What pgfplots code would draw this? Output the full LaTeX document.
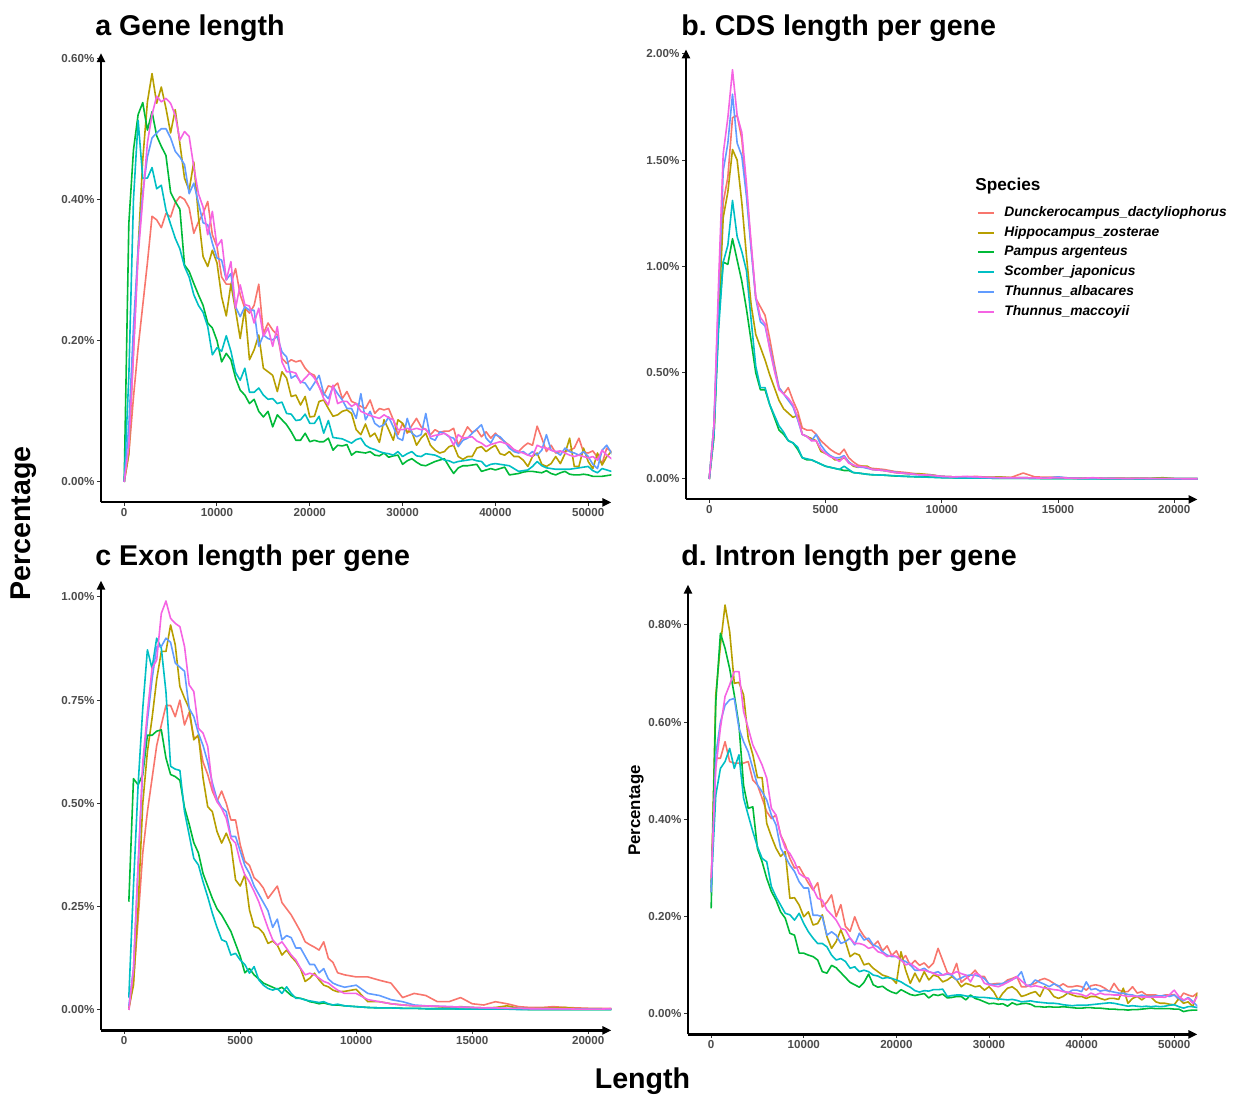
\documentclass[border=0pt]{standalone}
\usepackage{fontspec}
\setmainfont{Liberation Sans}
\usepackage{pgfplots}
\usepackage{pgfplotstable}
\pgfplotsset{compat=1.18}
\usetikzlibrary{arrows.meta}
\frenchspacing

\definecolor{cR}{HTML}{F8766D}
\definecolor{cH}{HTML}{B79F00}
\definecolor{cP}{HTML}{00BA38}
\definecolor{cS}{HTML}{00BFC4}
\definecolor{cB}{HTML}{619CFF}
\definecolor{cM}{HTML}{F564E3}

\pgfplotstableread{
x R H P S B M
0 0 0 0 0 0 0
500 0.04 0.04 0.366 0.15 0.08 0.05
1000 0.12 0.187 0.47 0.40 0.22 0.18
1500 0.19 0.33 0.52 0.512 0.33 0.32
2000 0.25 0.456 0.537 0.43 0.41 0.40
2500 0.31 0.538 0.498 0.43 0.46 0.48
3000 0.376 0.578 0.524 0.445 0.487 0.52
3500 0.371 0.536 0.49 0.415 0.494 0.546
4000 0.36 0.559 0.475 0.42 0.50 0.538
4500 0.38 0.529 0.462 0.385 0.50 0.543
5000 0.375 0.494 0.41 0.365 0.487 0.536
5500 0.395 0.527 0.397 0.345 0.468 0.519
6000 0.404 0.479 0.386 0.33 0.46 0.484
6500 0.40 0.43 0.307 0.305 0.449 0.496
7000 0.388 0.413 0.298 0.29 0.408 0.489
7500 0.352 0.453 0.281 0.265 0.423 0.446
8000 0.368 0.376 0.265 0.25 0.395 0.408
8500 0.38 0.319 0.25 0.24 0.367 0.389
9000 0.397 0.305 0.225 0.22 0.364 0.35
9500 0.35 0.328 0.218 0.18 0.338 0.383
10000 0.333 0.31 0.20 0.19 0.317 0.333
10500 0.29 0.262 0.17 0.185 0.314 0.343
11000 0.28 0.235 0.182 0.207 0.286 0.286
11500 0.28 0.28 0.173 0.185 0.295 0.312
12000 0.302 0.243 0.147 0.155 0.248 0.246
12500 0.265 0.203 0.13 0.144 0.234 0.279
13000 0.246 0.246 0.123 0.161 0.248 0.251
13500 0.239 0.173 0.111 0.127 0.243 0.249
14000 0.25 0.187 0.117 0.127 0.243 0.225
14500 0.28 0.208 0.10 0.133 0.192 0.246
15000 0.21 0.161 0.092 0.123 0.208 0.206
15500 0.225 0.156 0.10 0.117 0.203 0.218
16000 0.215 0.151 0.078 0.118 0.201 0.192
16500 0.208 0.128 0.095 0.111 0.206 0.22
17000 0.175 0.156 0.088 0.113 0.184 0.17
17500 0.168 0.147 0.081 0.097 0.177 0.156
18000 0.173 0.121 0.071 0.096 0.147 0.156
18500 0.17 0.123 0.059 0.087 0.151 0.154
19000 0.172 0.109 0.059 0.088 0.142 0.14
19500 0.161 0.121 0.069 0.096 0.14 0.147
20000 0.154 0.092 0.057 0.083 0.13 0.154
20500 0.151 0.093 0.059 0.083 0.14 0.147
21000 0.135 0.114 0.057 0.093 0.151 0.135
21500 0.123 0.116 0.057 0.069 0.125 0.118
22000 0.136 0.104 0.062 0.087 0.118 0.109
22500 0.134 0.093 0.045 0.063 0.135 0.137
23000 0.14 0.095 0.052 0.062 0.125 0.111
23500 0.118 0.10 0.051 0.061 0.116 0.114
24000 0.128 0.102 0.053 0.058 0.104 0.114
24500 0.114 0.097 0.038 0.055 0.104 0.107
25000 0.111 0.074 0.043 0.06 0.09 0.111
25500 0.107 0.067 0.042 0.062 0.125 0.10
26000 0.104 0.082 0.041 0.052 0.088 0.097
26500 0.116 0.064 0.043 0.048 0.10 0.094
27000 0.097 0.069 0.038 0.046 0.083 0.092
27500 0.104 0.056 0.037 0.043 0.078 0.09
28000 0.102 0.088 0.041 0.041 0.081 0.095
28500 0.104 0.074 0.035 0.040 0.092 0.091
29000 0.088 0.059 0.037 0.038 0.078 0.088
29500 0.067 0.088 0.038 0.043 0.062 0.074
30000 0.083 0.083 0.025 0.036 0.059 0.074
30500 0.069 0.071 0.030 0.040 0.09 0.076
31000 0.08 0.071 0.033 0.043 0.069 0.074
31500 0.09 0.052 0.028 0.037 0.064 0.076
32000 0.078 0.062 0.024 0.036 0.067 0.074
32500 0.074 0.069 0.023 0.040 0.097 0.075
33000 0.067 0.052 0.026 0.039 0.062 0.064
33500 0.074 0.045 0.029 0.038 0.059 0.066
34000 0.07 0.041 0.031 0.035 0.071 0.067
34500 0.072 0.043 0.033 0.031 0.069 0.069
35000 0.072 0.05 0.022 0.030 0.064 0.065
35500 0.076 0.052 0.012 0.027 0.062 0.052
36000 0.052 0.036 0.020 0.029 0.05 0.067
36500 0.065 0.032 0.023 0.030 0.059 0.062
37000 0.078 0.036 0.023 0.031 0.062 0.063
37500 0.07 0.036 0.024 0.032 0.069 0.064
38000 0.074 0.048 0.025 0.030 0.075 0.058
38500 0.064 0.05 0.015 0.029 0.081 0.055
39000 0.071 0.043 0.017 0.022 0.062 0.05
39500 0.062 0.048 0.019 0.025 0.055 0.053
40000 0.069 0.052 0.017 0.026 0.067 0.055
40500 0.062 0.04 0.019 0.025 0.064 0.057
41000 0.057 0.038 0.021 0.024 0.057 0.055
41500 0.052 0.043 0.010 0.023 0.048 0.052
42000 0.045 0.036 0.011 0.019 0.043 0.046
42500 0.043 0.036 0.012 0.015 0.041 0.043
43000 0.05 0.031 0.014 0.016 0.043 0.041
43500 0.055 0.022 0.015 0.017 0.038 0.038
44000 0.052 0.036 0.015 0.022 0.043 0.036
44500 0.079 0.041 0.014 0.029 0.038 0.052
45000 0.062 0.025 0.013 0.023 0.045 0.049
45500 0.043 0.022 0.016 0.020 0.067 0.048
46000 0.052 0.026 0.012 0.019 0.045 0.045
46500 0.041 0.036 0.010 0.018 0.043 0.043
47000 0.043 0.026 0.013 0.018 0.038 0.044
47500 0.043 0.04 0.015 0.018 0.048 0.041
48000 0.045 0.062 0.011 0.018 0.043 0.038
48500 0.048 0.022 0.010 0.019 0.041 0.036
49000 0.062 0.022 0.010 0.020 0.038 0.038
49500 0.042 0.048 0.011 0.021 0.043 0.036
50000 0.041 0.029 0.010 0.022 0.036 0.034
50500 0.044 0.019 0.008 0.016 0.025 0.036
51000 0.035 0.041 0.008 0.013 0.019 0.031
51500 0.026 0.024 0.008 0.019 0.045 0.045
52000 0.048 0.036 0.009 0.017 0.052 0.038
52500 0.043 0.043 0.010 0.015 0.041 0.033
53000 0.031 0.038 0.010 0.013 0.029 0.029
}\tabA

\pgfplotstableread{
x R H P S B M
0 0 0 0 0 0 0
200 0.20 0.20 0.25 0.20 0.25 0.25
400 0.80 0.75 0.75 0.70 0.85 0.92
600 1.30 1.23 1.02 1.02 1.45 1.53
800 1.42 1.35 1.01 1.10 1.58 1.70
1000 1.70 1.55 1.13 1.31 1.81 1.925
1200 1.71 1.50 1.03 1.14 1.58 1.71
1400 1.60 1.30 0.93 1.07 1.52 1.63
1600 1.35 1.05 0.80 0.98 1.33 1.39
1800 1.10 0.82 0.65 0.75 1.08 1.11
2000 0.85 0.68 0.50 0.53 0.85 0.86
2200 0.81 0.62 0.42 0.43 0.74 0.76
2400 0.77 0.56 0.42 0.43 0.72 0.73
2600 0.66 0.49 0.35 0.35 0.62 0.61
2800 0.54 0.43 0.29 0.30 0.52 0.51
3000 0.43 0.37 0.23 0.25 0.43 0.42
3200 0.40 0.33 0.21 0.22 0.40 0.40
3400 0.43 0.31 0.18 0.18 0.37 0.38
3600 0.37 0.29 0.17 0.17 0.34 0.35
3800 0.32 0.30 0.14 0.15 0.28 0.29
4000 0.24 0.21 0.10 0.10 0.21 0.21
4200 0.23 0.20 0.09 0.095 0.20 0.20
4400 0.23 0.19 0.09 0.09 0.18 0.18
4600 0.21 0.18 0.08 0.08 0.21 0.18
4800 0.18 0.13 0.07 0.07 0.16 0.14
5000 0.16 0.12 0.06 0.06 0.13 0.12
5200 0.14 0.11 0.055 0.055 0.11 0.105
5400 0.125 0.09 0.05 0.05 0.10 0.097
5600 0.115 0.09 0.045 0.045 0.10 0.082
5800 0.14 0.10 0.04 0.06 0.11 0.105
6000 0.10 0.08 0.04 0.045 0.08 0.074
6200 0.08 0.06 0.03 0.03 0.065 0.066
6400 0.065 0.055 0.028 0.028 0.056 0.058
6600 0.06 0.06 0.025 0.025 0.055 0.058
6800 0.055 0.06 0.022 0.022 0.05 0.055
7000 0.05 0.045 0.02 0.02 0.045 0.045
7500 0.045 0.04 0.018 0.018 0.04 0.04
8000 0.035 0.03 0.014 0.015 0.032 0.03
8500 0.03 0.025 0.012 0.012 0.025 0.026
9000 0.022 0.025 0.01 0.01 0.02 0.02
9500 0.02 0.02 0.009 0.008 0.018 0.018
10000 0.012 0.012 0.007 0.006 0.012 0.012
10500 0.01 0.01 0.006 0.005 0.01 0.01
11000 0.01 0.008 0.005 0.004 0.01 0.012
11500 0.012 0.01 0.004 0.004 0.008 0.01
12000 0.008 0.008 0.004 0.004 0.006 0.008
12500 0.007 0.01 0.003 0.003 0.006 0.006
13000 0.008 0.006 0.003 0.003 0.005 0.006
13500 0.028 0.006 0.003 0.003 0.006 0.006
14000 0.01 0.005 0.003 0.002 0.005 0.005
14500 0.008 0.005 0.002 0.002 0.004 0.004
15000 0.008 0.006 0.002 0.002 0.01 0.006
15500 0.005 0.004 0.002 0.002 0.004 0.004
16000 0.004 0.003 0.002 0.001 0.003 0.003
16500 0.005 0.004 0.002 0.001 0.003 0.006
17000 0.003 0.003 0.001 0.001 0.003 0.003
17500 0.004 0.003 0.001 0.001 0.002 0.003
18000 0.003 0.003 0.001 0.001 0.002 0.002
18500 0.004 0.002 0.001 0.001 0.002 0.003
19000 0.003 0.003 0.001 0.001 0.002 0.002
19500 0.004 0.006 0.001 0.001 0.002 0.002
20000 0.002 0.002 0.001 0.001 0.001 0.002
20500 0.002 0.002 0.001 0.001 0.001 0.001
21000 0.002 0.002 0.001 0.001 0.001 0.001
21500 0.002 0.002 0.001 0.001 0.001 0.001
}\tabB

\pgfplotstableread{
x R H P S B M
200 0.0 0.005 0.262 0.03 0.01 0.0
400 0.07 0.06 0.56 0.30 0.10 0.10
600 0.22 0.25 0.545 0.545 0.35 0.35
800 0.38 0.50 0.57 0.73 0.58 0.60
1000 0.48 0.625 0.665 0.872 0.70 0.72
1200 0.56 0.706 0.665 0.827 0.80 0.827
1400 0.64 0.80 0.675 0.90 0.88 0.847
1600 0.69 0.868 0.678 0.876 0.88 0.96
1800 0.737 0.868 0.61 0.77 0.90 0.99
2000 0.737 0.932 0.57 0.59 0.89 0.948
2200 0.71 0.884 0.565 0.583 0.84 0.936
2400 0.75 0.783 0.556 0.58 0.83 0.928
2600 0.69 0.755 0.49 0.48 0.82 0.88
2800 0.72 0.73 0.45 0.424 0.73 0.787
3000 0.66 0.654 0.405 0.367 0.71 0.771
3200 0.66 0.666 0.38 0.351 0.67 0.682
3400 0.60 0.561 0.33 0.31 0.64 0.67
3600 0.57 0.492 0.30 0.274 0.60 0.638
3800 0.53 0.48 0.27 0.234 0.55 0.54
4000 0.505 0.432 0.245 0.20 0.51 0.504
4200 0.53 0.404 0.23 0.17 0.49 0.488
4400 0.50 0.428 0.21 0.165 0.48 0.464
4600 0.46 0.40 0.19 0.133 0.42 0.416
4800 0.46 0.315 0.16 0.137 0.42 0.404
5000 0.40 0.30 0.13 0.121 0.385 0.359
5200 0.36 0.327 0.09 0.11 0.35 0.327
5400 0.35 0.242 0.10 0.089 0.33 0.31
5600 0.32 0.202 0.085 0.105 0.30 0.287
5800 0.31 0.198 0.075 0.073 0.28 0.262
6000 0.295 0.186 0.065 0.06 0.26 0.23
6200 0.27 0.161 0.06 0.052 0.24 0.198
6400 0.285 0.167 0.055 0.048 0.20 0.17
6600 0.30 0.157 0.05 0.052 0.22 0.157
6800 0.26 0.133 0.055 0.04 0.17 0.165
7000 0.245 0.145 0.045 0.056 0.18 0.149
7200 0.23 0.129 0.035 0.04 0.175 0.133
7400 0.21 0.117 0.03 0.028 0.15 0.121
7600 0.19 0.10 0.028 0.028 0.15 0.101
7800 0.165 0.069 0.025 0.024 0.13 0.085
8000 0.158 0.077 0.02 0.022 0.11 0.089
8200 0.152 0.089 0.018 0.02 0.11 0.085
8400 0.145 0.073 0.015 0.018 0.09 0.077
8600 0.165 0.06 0.017 0.02 0.10 0.069
8800 0.125 0.056 0.014 0.015 0.075 0.065
9000 0.115 0.048 0.012 0.012 0.065 0.056
9200 0.09 0.044 0.012 0.014 0.06 0.048
9500 0.085 0.045 0.01 0.01 0.055 0.04
10000 0.08 0.05 0.008 0.008 0.06 0.04
10500 0.08 0.02 0.006 0.006 0.04 0.025
11000 0.072 0.02 0.005 0.005 0.035 0.02
11500 0.065 0.015 0.005 0.005 0.025 0.015
12000 0.03 0.012 0.004 0.004 0.02 0.012
12500 0.04 0.01 0.004 0.004 0.012 0.01
13000 0.035 0.01 0.003 0.003 0.01 0.01
13500 0.02 0.008 0.003 0.003 0.009 0.009
14000 0.02 0.006 0.003 0.003 0.008 0.008
14500 0.03 0.008 0.002 0.002 0.007 0.007
15000 0.015 0.006 0.002 0.002 0.006 0.006
15500 0.012 0.005 0.002 0.002 0.005 0.005
16000 0.02 0.006 0.002 0.002 0.004 0.005
16500 0.015 0.01 0.002 0.002 0.004 0.004
17000 0.008 0.004 0.002 0.001 0.004 0.004
17500 0.006 0.003 0.001 0.001 0.003 0.003
18000 0.006 0.004 0.001 0.001 0.003 0.003
18500 0.008 0.005 0.001 0.001 0.003 0.003
19000 0.006 0.006 0.001 0.001 0.002 0.003
19500 0.005 0.003 0.001 0.001 0.002 0.002
20000 0.004 0.003 0.001 0.001 0.002 0.002
20500 0.004 0.003 0.001 0.001 0.002 0.002
21000 0.004 0.002 0.001 0.001 0.002 0.003
21500 0.004 0.002 0.001 0.001 0.002 0.003
}\tabC

\pgfplotstableread{
x R H P S B M
0 0.27 0.25 0.217 0.26 0.25 0.28
500 0.526 0.656 0.642 0.45 0.533 0.505
1000 0.526 0.759 0.783 0.505 0.60 0.588
1500 0.56 0.841 0.752 0.519 0.635 0.653
2000 0.519 0.786 0.71 0.546 0.646 0.677
2500 0.516 0.68 0.656 0.505 0.649 0.704
3000 0.516 0.682 0.594 0.533 0.588 0.704
3500 0.516 0.656 0.47 0.444 0.56 0.622
4000 0.519 0.567 0.423 0.409 0.539 0.588
4500 0.481 0.533 0.426 0.375 0.505 0.553
5000 0.471 0.486 0.34 0.344 0.471 0.533
5500 0.444 0.486 0.313 0.32 0.457 0.512
6000 0.416 0.392 0.279 0.313 0.44 0.485
6500 0.402 0.365 0.252 0.262 0.409 0.423
7000 0.409 0.341 0.234 0.241 0.389 0.409
7500 0.368 0.324 0.21 0.224 0.341 0.368
8000 0.348 0.334 0.197 0.207 0.324 0.341
8500 0.32 0.238 0.166 0.204 0.306 0.33
9000 0.30 0.239 0.162 0.193 0.293 0.313
9500 0.303 0.224 0.125 0.207 0.272 0.289
10000 0.286 0.20 0.125 0.186 0.259 0.282
10500 0.269 0.21 0.121 0.169 0.259 0.279
11000 0.255 0.183 0.118 0.156 0.203 0.258
11500 0.27 0.186 0.111 0.145 0.203 0.238
12000 0.22 0.204 0.087 0.145 0.20 0.234
12500 0.23 0.159 0.084 0.138 0.162 0.214
13000 0.245 0.135 0.10 0.121 0.169 0.204
13500 0.20 0.149 0.095 0.111 0.162 0.193
14000 0.225 0.173 0.085 0.114 0.145 0.176
14500 0.18 0.149 0.075 0.108 0.149 0.173
15000 0.17 0.118 0.065 0.094 0.156 0.156
15500 0.20 0.125 0.06 0.097 0.142 0.145
16000 0.175 0.121 0.055 0.087 0.166 0.145
16500 0.16 0.101 0.065 0.09 0.152 0.142
17000 0.15 0.104 0.082 0.087 0.156 0.135
17500 0.14 0.094 0.06 0.08 0.142 0.138
18000 0.15 0.087 0.055 0.078 0.138 0.128
18500 0.13 0.08 0.057 0.073 0.128 0.125
19000 0.14 0.077 0.05 0.075 0.121 0.118
19500 0.12 0.073 0.045 0.073 0.118 0.121
20000 0.13 0.063 0.042 0.07 0.118 0.118
20500 0.11 0.128 0.05 0.066 0.111 0.111
21000 0.12 0.09 0.045 0.06 0.108 0.101
21500 0.10 0.063 0.04 0.055 0.101 0.104
22000 0.11 0.084 0.038 0.048 0.09 0.097
22500 0.10 0.066 0.04 0.045 0.09 0.09
23000 0.105 0.087 0.042 0.048 0.094 0.09
23500 0.095 0.07 0.033 0.047 0.087 0.087
24000 0.105 0.08 0.04 0.05 0.084 0.084
24500 0.135 0.077 0.038 0.05 0.087 0.08
25000 0.11 0.066 0.041 0.051 0.08 0.08
25500 0.085 0.07 0.033 0.036 0.082 0.084
26000 0.08 0.077 0.034 0.038 0.08 0.082
26500 0.104 0.07 0.036 0.039 0.07 0.087
27000 0.065 0.056 0.036 0.039 0.074 0.083
27500 0.073 0.063 0.029 0.037 0.079 0.08
28000 0.08 0.06 0.039 0.036 0.08 0.066
28500 0.09 0.056 0.032 0.035 0.08 0.084
29000 0.077 0.058 0.029 0.034 0.077 0.08
29500 0.077 0.049 0.025 0.034 0.073 0.063
30000 0.06 0.056 0.021 0.033 0.062 0.06
30500 0.062 0.046 0.022 0.032 0.06 0.058
31000 0.063 0.029 0.02 0.031 0.061 0.056
31500 0.062 0.043 0.021 0.03 0.063 0.06
32000 0.07 0.053 0.016 0.029 0.067 0.065
32500 0.073 0.056 0.023 0.03 0.071 0.07
33000 0.077 0.049 0.019 0.028 0.075 0.077
33500 0.056 0.036 0.021 0.025 0.087 0.068
34000 0.056 0.039 0.022 0.026 0.058 0.06
34500 0.06 0.043 0.02 0.027 0.06 0.056
35000 0.063 0.046 0.015 0.025 0.07 0.058
35500 0.07 0.036 0.015 0.024 0.065 0.056
36000 0.073 0.056 0.014 0.023 0.061 0.053
36500 0.069 0.049 0.015 0.022 0.056 0.052
37000 0.063 0.036 0.014 0.022 0.062 0.05
37500 0.056 0.032 0.014 0.021 0.058 0.049
38000 0.062 0.036 0.015 0.019 0.048 0.046
38500 0.056 0.043 0.014 0.018 0.043 0.045
39000 0.056 0.039 0.013 0.017 0.049 0.043
39500 0.058 0.036 0.012 0.018 0.049 0.042
40000 0.056 0.036 0.012 0.018 0.046 0.04
40500 0.049 0.032 0.013 0.018 0.066 0.036
41000 0.058 0.036 0.013 0.019 0.05 0.043
41500 0.06 0.036 0.012 0.02 0.052 0.039
42000 0.058 0.032 0.012 0.021 0.047 0.043
42500 0.053 0.029 0.011 0.022 0.049 0.04
43000 0.046 0.032 0.01 0.023 0.047 0.04
43500 0.063 0.032 0.01 0.022 0.045 0.039
44000 0.049 0.03 0.009 0.02 0.043 0.039
44500 0.046 0.053 0.009 0.018 0.043 0.038
45000 0.046 0.022 0.008 0.016 0.04 0.036
45500 0.056 0.032 0.009 0.017 0.039 0.037
46000 0.043 0.036 0.009 0.016 0.036 0.036
46500 0.046 0.029 0.01 0.015 0.039 0.035
47000 0.039 0.036 0.011 0.016 0.036 0.035
47500 0.039 0.035 0.012 0.015 0.036 0.034
48000 0.039 0.025 0.011 0.016 0.037 0.035
48500 0.036 0.022 0.011 0.015 0.037 0.035
49000 0.039 0.022 0.011 0.016 0.038 0.034
49500 0.039 0.02 0.011 0.018 0.036 0.04
50000 0.04 0.019 0.01 0.019 0.039 0.049
50500 0.029 0.032 0.01 0.015 0.032 0.036
51000 0.043 0.022 0.005 0.012 0.027 0.029
51500 0.039 0.025 0.007 0.015 0.034 0.032
52000 0.036 0.015 0.008 0.015 0.026 0.022
52500 0.043 0.043 0.008 0.013 0.016 0.036
53000 0.04 0.029 0.01 0.013 0.028 0.032
}\tabD

\pgfplotsset{
  panel/.style={
    scale only axis,
    anchor=south west,
    axis lines=left,
    axis line style={line width=1.1pt, -{Triangle[length=4.5pt,width=4pt]}},
    tick align=outside,
    major tick length=1.8pt,
    tick style={line width=0.5pt, black!80},
    tick label style={font=\fontsize{5.8}{6}\selectfont\bfseries, text=black!70},
    xticklabel style={yshift=2.4pt},
    yticklabel style={xshift=2pt},
    /pgf/number format/assume math mode=true,
    scaled ticks=false,
    xticklabel={\pgfmathprintnumber[fixed,precision=0,1000 sep={}]{\tick}},
    yticklabel={\pgfmathprintnumber[fixed,fixed zerofill,precision=2]{\tick}\%},
    every axis plot/.append style={line width=0.8pt, line join=round, mark=none},
  },
  legend image code/.code={\draw[#1, line width=1pt] (0pt,0pt) -- (8pt,0pt);},
}

\newcommand{\sixplots}[1]{%
  \addplot[color=cR] table[x=x,y=R]{#1};
  \addplot[color=cH] table[x=x,y=H]{#1};
  \addplot[color=cP] table[x=x,y=P]{#1};
  \addplot[color=cS] table[x=x,y=S]{#1};
  \addplot[color=cB] table[x=x,y=B]{#1};
  \addplot[color=cM] table[x=x,y=M]{#1};
}

\begin{document}
\begin{tikzpicture}
\path[use as bounding box] (0pt,0pt) rectangle (621pt,-547.5pt);

% panel a
\begin{axis}[panel, at={(50.5pt,-251.2pt)}, width=255.2pt, height=224.6pt,
  xmin=-2500, xmax=52500, ymin=-0.0289, ymax=0.6069,
  xtick={0,10000,20000,30000,40000,50000}, ytick={0,0.2,0.4,0.6}]
\sixplots{\tabA}
\end{axis}

% panel b
\begin{axis}[panel, at={(343pt,-249.7pt)}, width=255.75pt, height=225pt,
  xmin=-1000, xmax=21000, ymin=-0.096, ymax=2.021,
  xtick={0,5000,10000,15000,20000}, ytick={0,0.5,1,1.5,2},
  legend style={at={(0.568,0.657)}, anchor=north west, draw=none, fill=none,
    inner sep=0pt, row sep=1.3pt,
    font=\fontsize{6.9}{8}\selectfont\bfseries\itshape,
    nodes={inner sep=0.9pt, text height=5.2pt, text depth=1.6pt},
    /tikz/every odd column/.append style={column sep=3.8pt}},
  legend cell align=left]
\sixplots{\tabB}
\legend{Dunckerocampus\_dactyliophorus, Hippocampus\_zosterae, Pampus argenteus, Scomber\_japonicus, Thunnus\_albacares, Thunnus\_maccoyii}
\end{axis}

% panel c
\begin{axis}[panel, at={(50.5pt,-515.2pt)}, width=255.2pt, height=224.9pt,
  xmin=-1000, xmax=21000, ymin=-0.0495, ymax=1.0395,
  xtick={0,5000,10000,15000,20000}, ytick={0,0.25,0.5,0.75,1}]
\sixplots{\tabC}
\end{axis}

% panel d
\begin{axis}[panel, at={(344pt,-517.2pt)}, width=254.7pt, height=224.9pt,
  xmin=-2500, xmax=52500, ymin=-0.042, ymax=0.883,
  xtick={0,10000,20000,30000,40000,50000}, ytick={0,0.2,0.4,0.6,0.8}]
\sixplots{\tabD}
\end{axis}

% titles and labels
\begin{scope}[every node/.style={inner sep=0pt}]
\node[anchor=base west, font=\fontsize{14.3}{16}\selectfont\bfseries] at (47.5pt,-17.9pt) {a Gene length};
\node[anchor=base west, font=\fontsize{14.3}{16}\selectfont\bfseries] at (340.5pt,-17.9pt) {b. CDS length per gene};
\node[anchor=base west, font=\fontsize{14.3}{16}\selectfont\bfseries] at (47.5pt,-283pt) {c Exon length per gene};
\node[anchor=base west, font=\fontsize{14.3}{16}\selectfont\bfseries] at (340.5pt,-283pt) {d. Intron length per gene};
\node[rotate=90, font=\fontsize{14.3}{16}\selectfont\bfseries] at (12pt,-261.75pt) {Percentage};
\node[anchor=base, font=\fontsize{14.3}{16}\selectfont\bfseries] at (321.25pt,-544.3pt) {Length};
\node[rotate=90, font=\fontsize{8.4}{10}\selectfont\bfseries] at (318pt,-405.3pt) {Percentage};
\node[anchor=base west, font=\fontsize{8.6}{10}\selectfont\bfseries] at (487.5pt,-95.25pt) {Species};
\end{scope}
\end{tikzpicture}
\end{document}
